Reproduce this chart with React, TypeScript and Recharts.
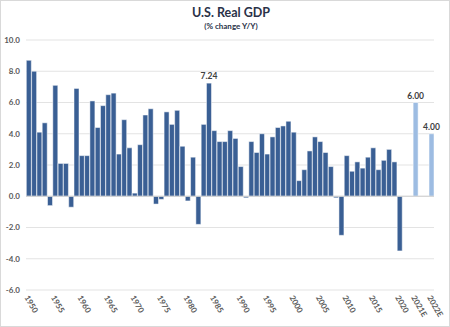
import React from 'react';
import { BarChart, Bar, XAxis, YAxis, CartesianGrid, ReferenceLine, LabelList, Cell } from 'recharts';

const years = [
  '1950', '1951', '1952', '1953', '1954', '1955', '1956', '1957', '1958', '1959',
  '1960', '1961', '1962', '1963', '1964', '1965', '1966', '1967', '1968', '1969',
  '1970', '1971', '1972', '1973', '1974', '1975', '1976', '1977', '1978', '1979',
  '1980', '1981', '1982', '1983', '1984', '1985', '1986', '1987', '1988', '1989',
  '1990', '1991', '1992', '1993', '1994', '1995', '1996', '1997', '1998', '1999',
  '2000', '2001', '2002', '2003', '2004', '2005', '2006', '2007', '2008', '2009',
  '2010', '2011', '2012', '2013', '2014', '2015', '2016', '2017', '2018', '2019',
  '2020',
];

const gdpGrowth = [
  8.7, 8.0, 4.1, 4.7, -0.6, 7.1, 2.1, 2.1, -0.7, 6.9,
  2.6, 2.6, 6.1, 4.4, 5.8, 6.5, 6.6, 2.7, 4.9, 3.1,
  0.2, 3.3, 5.2, 5.6, -0.5, -0.2, 5.4, 4.6, 5.5, 3.2,
  -0.3, 2.5, -1.8, 4.6, 7.24, 4.2, 3.5, 3.5, 4.2, 3.7,
  1.9, -0.1, 3.5, 2.8, 4.0, 2.7, 3.8, 4.4, 4.5, 4.8,
  4.1, 1.0, 1.7, 2.9, 3.8, 3.5, 2.8, 1.9, -0.1, -2.5,
  2.6, 1.6, 2.2, 1.8, 2.5, 3.1, 1.7, 2.3, 3.0, 2.2,
  -3.5,
];

const estimateLabels = ['2021E', '2022E'];
const estimateValues = [6.0, 4.0];

const shownTicks = [
  '1950', '1955', '1960', '1965', '1970', '1975', '1980', '1985',
  '1990', '1995', '2000', '2005', '2010', '2015', '2020', '2021E', '2022E',
];
const labelledPoints = ['1984', '2021E', '2022E'];
const yTicks = [-6, -4, -2, 0, 2, 4, 6, 8, 10];

const point = (label: string, value: number | null, estimate: boolean) => ({
  label,
  value,
  estimate,
  tag: labelledPoints.includes(label) && value !== null ? value.toFixed(2) : '',
});

// two empty slots before each estimate, as in the source sheet
const data = [
  ...years.map((y, i) => point(y, gdpGrowth[i], false)),
  point('gap1', null, false),
  point('gap2', null, false),
  point(estimateLabels[0], estimateValues[0], true),
  point('gap3', null, false),
  point('gap4', null, false),
  point(estimateLabels[1], estimateValues[1], true),
];

const FONT = 'Lato, "Open Sans", sans-serif';

const YearTick = (props: any) => {
  const { x, payload } = props;
  if (!shownTicks.includes(payload.value)) return null;
  return (
    <text
      transform={`translate(${x - 2},${296}) rotate(60)`}
      textAnchor="start"
      dy="0.35em"
      fontSize={8}
      fontWeight={700}
      fill="#595959"
      fontFamily={FONT}
    >
      {payload.value}
    </text>
  );
};

const PointLabel = (props: any) => {
  const { x, y, width, value } = props;
  if (!value) return null;
  return (
    <text
      x={x + width / 2}
      y={y - 4}
      textAnchor="middle"
      fontSize={8.5}
      fontWeight={700}
      fill="#404040"
      fontFamily={FONT}
    >
      {value}
    </text>
  );
};

export default function App() {
  return (
    <div style={{ position: 'absolute', left: 0, top: 0, width: 450, height: 327, background: '#fff', fontFamily: FONT }}>
      <div style={{ position: 'absolute', left: 0, top: 0, width: 448, height: 325, border: '1px solid #d9d9d9', pointerEvents: 'none' }} />
      <div style={{ position: 'absolute', left: 0, width: 462, top: 5, textAlign: 'center', fontSize: 12.5, fontWeight: 700, color: '#2a3248' }}>
        U.S. Real GDP
      </div>
      <div style={{ position: 'absolute', left: 0, width: 462, top: 21, textAlign: 'center', fontSize: 8, fontWeight: 700, color: '#2a3248' }}>
        (% change Y/Y)
      </div>
      <BarChart
        width={450}
        height={327}
        data={data}
        margin={{ top: 40, right: 16, left: 4, bottom: 2 }}
        barCategoryGap="6%"
      >
        <CartesianGrid vertical={false} stroke="#e3e3e3" />
        <XAxis
          dataKey="label"
          interval={0}
          tick={<YearTick />}
          tickLine={false}
          axisLine={false}
          height={35}
        />
        <YAxis
          domain={[-6, 10]}
          ticks={yTicks}
          tickFormatter={(v: number) => v.toFixed(1)}
          tick={{ fontSize: 8, fontWeight: 700, fill: '#595959', fontFamily: FONT }}
          tickLine={false}
          axisLine={false}
          tickSize={0}
          tickMargin={6}
          width={22}
        />
        <ReferenceLine y={0} stroke="#d0d0d0" />
        <Bar dataKey="value" stroke="#ffffff" strokeWidth={0.5} isAnimationActive={false}>
          {data.map((d, i) => (
            <Cell key={i} fill={d.estimate ? '#9dbce2' : '#3a5f94'} />
          ))}
          <LabelList dataKey="tag" content={<PointLabel />} />
        </Bar>
      </BarChart>
    </div>
  );
}
